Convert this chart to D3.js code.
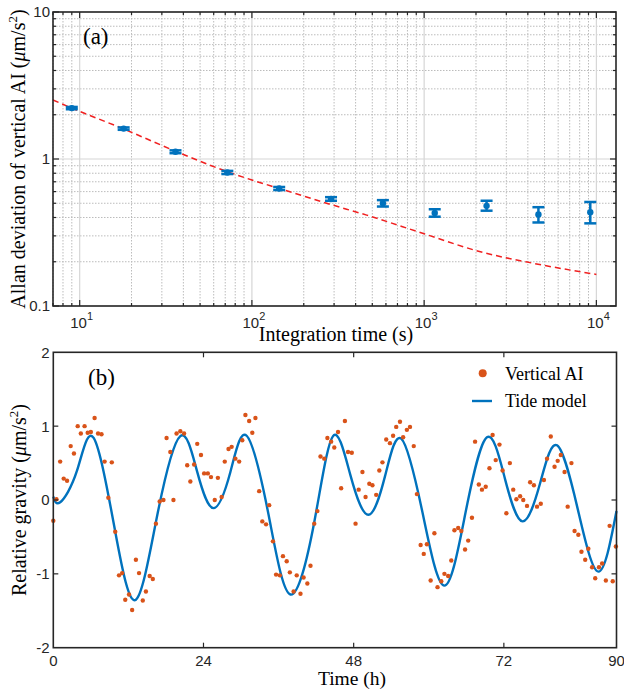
<!DOCTYPE html>
<html><head><meta charset="utf-8">
<script src="https://cdn.jsdelivr.net/npm/d3@7"></script>
<style>body{margin:0;background:#fff}</style>
</head><body><svg id="c" width="624" height="692"></svg>
<script>
// ---------- Panel (a) data ----------
const tau = [9,18,36,72,144,288,576,1152,2304,4608,9216];
const adev = [2.22,1.61,1.12,0.81,0.63,0.535,0.50,0.43,0.48,0.42,0.435];
const adevLo = [2.18,1.58,1.095,0.79,0.615,0.52,0.475,0.405,0.445,0.37,0.365];
const adevHi = [2.26,1.64,1.145,0.83,0.645,0.55,0.525,0.455,0.52,0.47,0.51];
const fitTau = [7,9,18,36,72,100,144,288,464,1000,2120,4325,10000];
const fitAdev = [2.52,2.22,1.60,1.13,0.82,0.72,0.63,0.49,0.415,0.31,0.234,0.195,0.164];
const xTicksA = [10,100,1000,10000];
const xTickExpA = ["1","2","3","4"];
const yTicksA = [0.1,1,10];
const yTickLabelsA = ["0.1","1","10"];

// ---------- Panel (b) data ----------
const aiTime = [0,0.5,1.1,1.66,2.2,2.78,3.3,3.9,4.4,5.0,5.5,6.0,6.6,7.15,7.7,8.2,8.8,9.35,9.9,10.5,11.0,11.5,12.1,12.6,13.2,13.7,14.3,14.8,15.4,15.9,16.4,17.0,17.6,18.1,18.7,19.2,19.7,20.3,20.9,21.4,21.9,22.5,23.0,23.6,24.1,24.7,25.2,25.8,26.3,26.9,27.4,28.0,28.5,29.1,29.7,30.2,30.7,31.3,31.8,32.3,32.9,33.4,34.0,34.5,35.1,35.6,36.2,36.7,37.3,37.8,38.4,38.9,39.5,40.0,40.6,41.1,41.7,42.2,42.7,43.3,43.8,44.4,44.9,45.5,46.0,
46.6,47.1,47.7,48.3,48.8,49.4,49.9,50.5,51.0,51.6,52.1,52.6,53.2,53.8,54.3,54.8,55.4,55.9,56.5,57.0,57.6,58.1,58.7,59.2,59.7,60.3,60.9,61.4,62.0,62.5,63.1,63.6,64.1,64.7,65.2,65.8,66.3,66.9,67.4,68.0,68.5,69.1,69.7,70.2,70.7,71.3,71.8,72.4,72.96,73.5,74.0,74.6,75.1,75.7,76.2,76.8,77.3,77.9,78.4,78.9,79.5,80.1,80.6,81.1,81.7,82.2,82.8,83.3,83.9,84.4,85.0,85.5,86.1,86.6,87.2,87.7,88.3,88.9,89.4,89.9];
const aiValue = [-0.28,0.01,0.52,0.29,0.26,0.73,0.63,1.00,0.90,1.00,0.91,0.92,1.11,0.90,0.89,0.52,0.03,0.51,-0.43,-1.02,-0.99,-1.35,-1.28,-1.49,-0.81,-0.99,-1.36,-1.24,-1.03,-1.07,-0.32,-0.02,0.00,0.84,0.65,0.00,0.90,0.93,0.90,0.47,0.25,0.48,0.76,0.61,0.36,0.36,0.31,0.00,0.30,0.04,0.52,0.69,0.72,0.56,0.52,0.81,1.15,1.07,0.91,1.11,0.12,-0.29,-0.33,-0.07,-0.56,-1.01,-1.02,-0.76,-0.83,-0.98,-1.24,-1.02,-1.27,-1.05,-1.13,-0.89,-0.32,-0.15,0.59,0.56,0.84,0.79,0.71,0.92,0.16,
1.07,0.65,0.64,-0.32,0.14,0.38,0.04,0.22,0.20,0.07,0.40,0.51,0.82,0.77,0.87,0.99,1.06,0.85,0.95,0.99,0.73,0.08,-0.61,-0.73,-0.60,-1.09,-0.45,-1.18,-1.10,-1.00,-1.03,-0.82,-0.41,-0.38,-0.42,-0.67,-0.55,-0.24,0.79,0.21,0.14,0.18,0.43,0.88,0.54,0.75,0.40,-0.18,0.50,0.14,0.01,0.05,0.00,-0.08,0.24,0.20,-0.09,-0.05,0.27,0.56,0.86,0.45,0.53,0.61,0.38,-0.09,0.50,-0.42,-0.47,-0.70,-0.81,-0.66,-0.91,-1.06,-0.91,-0.86,-1.09,-0.35,-1.10,-0.63];
const tideTime = [0,1.1,3.8,6.45,9.9,13.2,16.7,20.3,23.0,25.6,28.3,30.9,34.4,37.9,41.7,44.7,47.5,50.35,53.0,55.6,59.0,62.5,65.9,69.3,72.2,75.0,77.8,80.5,83.8,87.1,90];
const tideValue = [0.045,-0.03,0.40,0.84,-0.43,-1.35,-0.17,0.865,0.38,-0.11,0.38,0.87,-0.20,-1.28,-0.30,0.865,0.33,-0.20,0.32,0.83,-0.17,-1.16,-0.16,0.85,0.28,-0.29,0.23,0.74,-0.12,-0.97,-0.15];
const xTicksB = [0,24,48,72,90];
const yTicksB = [-2,-1,0,1,2];
const legendLabels = ["Vertical AI","Tide model"];

// ---------- styles ----------
const BLUE = "#0072BD", ORANGE = "#D95319", AX = "#262626";
const SANS = "'Liberation Sans', Arial, sans-serif";
const SERIF = "'Liberation Serif', 'Times New Roman', serif";

const svg = d3.select("#c");

// ================= Panel (a) =================
const A = {l:53, r:616, t:12, b:306};
const xA = d3.scaleLog().domain([7,13000]).range([A.l, A.r]);
const yA = d3.scaleLog().domain([0.1,10]).range([A.b, A.t]);
const gA = svg.append("g");

const minorX = xA.ticks().filter(v => !xTicksA.includes(v));
const minorY = yA.ticks().filter(v => !yTicksA.includes(v));

gA.selectAll(".mgx").data(minorX).join("line")
  .attr("x1", d=>xA(d)).attr("x2", d=>xA(d)).attr("y1", A.t).attr("y2", A.b)
  .attr("stroke", "#bcbcbc").attr("stroke-width", 1).attr("stroke-dasharray", "1.5,1.5");
gA.selectAll(".mgy").data(minorY).join("line")
  .attr("y1", d=>yA(d)).attr("y2", d=>yA(d)).attr("x1", A.l).attr("x2", A.r)
  .attr("stroke", "#bcbcbc").attr("stroke-width", 1).attr("stroke-dasharray", "1.5,1.5");
gA.selectAll(".Mgx").data(xTicksA).join("line")
  .attr("x1", d=>xA(d)).attr("x2", d=>xA(d)).attr("y1", A.t).attr("y2", A.b)
  .attr("stroke", "#d6d6d6").attr("stroke-width", 1.2);
gA.selectAll(".Mgy").data(yTicksA).join("line")
  .attr("y1", d=>yA(d)).attr("y2", d=>yA(d)).attr("x1", A.l).attr("x2", A.r)
  .attr("stroke", "#d6d6d6").attr("stroke-width", 1.2);

function tickLines(g, data, scale, orient, len, pos) {
  g.selectAll(null).data(data).join("line")
    .attr("stroke", AX).attr("stroke-width", 1.2)
    .each(function(d){
      const s = d3.select(this);
      if (orient === "x") s.attr("x1", scale(d)).attr("x2", scale(d)).attr("y1", pos).attr("y2", pos + len);
      else s.attr("y1", scale(d)).attr("y2", scale(d)).attr("x1", pos).attr("x2", pos + len);
    });
}
tickLines(gA, minorX, xA, "x", 3, A.t);
tickLines(gA, minorX, xA, "x", -3, A.b);
tickLines(gA, xTicksA, xA, "x", 6, A.t);
tickLines(gA, xTicksA, xA, "x", -6, A.b);
tickLines(gA, minorY, yA, "y", 3, A.l);
tickLines(gA, minorY, yA, "y", -3, A.r);
tickLines(gA, yTicksA, yA, "y", 6, A.l);
tickLines(gA, yTicksA, yA, "y", -6, A.r);

const fitLine = d3.line().x(d=>xA(d[0])).y(d=>yA(d[1])).curve(d3.curveMonotoneX);
gA.append("path").datum(fitTau.map((t,i)=>[t, fitAdev[i]]))
  .attr("d", fitLine).attr("fill","none").attr("stroke","#f02020")
  .attr("stroke-width",1.5).attr("stroke-dasharray","6,4");

const eb = gA.selectAll(".eb").data(tau.map((t,i)=>({t, v:adev[i], lo:adevLo[i], hi:adevHi[i]}))).join("g");
eb.append("line").attr("x1",d=>xA(d.t)).attr("x2",d=>xA(d.t))
  .attr("y1",d=>yA(d.lo)).attr("y2",d=>yA(d.hi)).attr("stroke",BLUE).attr("stroke-width",2.5);
eb.append("line").attr("x1",d=>xA(d.t)-6).attr("x2",d=>xA(d.t)+6)
  .attr("y1",d=>yA(d.lo)).attr("y2",d=>yA(d.lo)).attr("stroke",BLUE).attr("stroke-width",2.5);
eb.append("line").attr("x1",d=>xA(d.t)-6).attr("x2",d=>xA(d.t)+6)
  .attr("y1",d=>yA(d.hi)).attr("y2",d=>yA(d.hi)).attr("stroke",BLUE).attr("stroke-width",2.5);
eb.append("circle").attr("cx",d=>xA(d.t)).attr("cy",d=>yA(d.v)).attr("r",3.2).attr("fill",BLUE);

gA.append("rect").attr("x",A.l).attr("y",A.t).attr("width",A.r-A.l).attr("height",A.b-A.t)
  .attr("fill","none").attr("stroke",AX).attr("stroke-width",1.6);

gA.selectAll(".ytl").data(yTicksA).join("text")
  .attr("x", A.l-3).attr("y", d=>yA(d)).attr("dy","0.36em")
  .attr("text-anchor","end").attr("font-family",SANS).attr("font-size",15).attr("fill",AX)
  .text((d,i)=>yTickLabelsA[i]);
const xtl = gA.selectAll(".xtl").data(xTicksA).join("text")
  .attr("x", d=>xA(d)+2).attr("y", A.b+22)
  .attr("text-anchor","middle").attr("font-family",SANS).attr("font-size",15).attr("fill",AX);
xtl.append("tspan").text("10");
xtl.append("tspan").attr("dy",-8).attr("font-size",11).text((d,i)=>xTickExpA[i]);

gA.append("text").attr("x",336).attr("y",340.5).attr("text-anchor","middle")
  .attr("font-family",SERIF).attr("font-size",20).attr("fill","#000").text("Integration time (s)");
const ylA = gA.append("text").attr("transform",`translate(25,${(A.t+A.b)/2}) rotate(-90)`)
  .attr("text-anchor","middle").attr("font-family",SERIF).attr("font-size",20).attr("fill","#000");
ylA.append("tspan").text("Allan deviation of vertical AI (");
ylA.append("tspan").attr("font-style","italic").text("μ");
ylA.append("tspan").text("m/s");
ylA.append("tspan").attr("dy",-8).attr("font-size",13).text("2");
ylA.append("tspan").attr("dy",8).text(")");
gA.append("text").attr("x",83).attr("y",44).attr("font-family",SERIF).attr("font-size",23).text("(a)");

// ================= Panel (b) =================
const B = {l:53.3, r:616.5, t:352.3, b:647.7};
const xB = d3.scaleLinear().domain([0,90]).range([B.l, B.r]);
const yB = d3.scaleLinear().domain([-2,2]).range([B.b, B.t]);
const gB = svg.append("g");

const tideLine = d3.line().x(d=>xB(d[0])).y(d=>yB(d[1])).curve(d3.curveNatural);
gB.append("path").datum(tideTime.map((t,i)=>[t, tideValue[i]]))
  .attr("d", tideLine).attr("fill","none").attr("stroke",BLUE).attr("stroke-width",2.4);

gB.selectAll(".dot").data(aiTime.map((t,i)=>[t, aiValue[i]])).join("circle")
  .attr("cx",d=>xB(d[0])).attr("cy",d=>yB(d[1])).attr("r",2.2).attr("fill",ORANGE);

gB.append("rect").attr("x",B.l).attr("y",B.t).attr("width",B.r-B.l).attr("height",B.b-B.t)
  .attr("fill","none").attr("stroke",AX).attr("stroke-width",1.6);
const innerX = xTicksB.filter(v=>v>0 && v<90), innerY = yTicksB.filter(v=>v>-2 && v<2);
tickLines(gB, innerX, xB, "x", 5, B.t);
tickLines(gB, innerX, xB, "x", -5, B.b);
tickLines(gB, innerY, yB, "y", 5, B.l);
tickLines(gB, innerY, yB, "y", -5, B.r);

gB.selectAll(".ytl").data(yTicksB).join("text")
  .attr("x", 49.5).attr("y", d=>yB(d)).attr("dy","0.36em")
  .attr("text-anchor","end").attr("font-family",SANS).attr("font-size",15).attr("fill",AX)
  .text(d=>d);
gB.selectAll(".xtl").data(xTicksB).join("text")
  .attr("x", d=>xB(d)).attr("y", 666)
  .attr("text-anchor","middle").attr("font-family",SANS).attr("font-size",15).attr("fill",AX)
  .text(d=>d);

gB.append("text").attr("x",352).attr("y",685).attr("text-anchor","middle")
  .attr("font-family",SERIF).attr("font-size",19.5).attr("fill","#000").text("Time (h)");
const ylB = gB.append("text").attr("transform",`translate(26,${(B.t+B.b)/2}) rotate(-90)`)
  .attr("text-anchor","middle").attr("font-family",SERIF).attr("font-size",20).attr("fill","#000");
ylB.append("tspan").text("Relative gravity (");
ylB.append("tspan").attr("font-style","italic").text("μ");
ylB.append("tspan").text("m/s");
ylB.append("tspan").attr("dy",-8).attr("font-size",13).text("2");
ylB.append("tspan").attr("dy",8).text(")");
gB.append("text").attr("x",88).attr("y",385).attr("font-family",SERIF).attr("font-size",23).text("(b)");

gB.append("circle").attr("cx",482.7).attr("cy",373.3).attr("r",4).attr("fill",ORANGE);
gB.append("text").attr("x",505).attr("y",379.5).attr("font-family",SERIF).attr("font-size",18).text(legendLabels[0]);
gB.append("line").attr("x1",472).attr("x2",492).attr("y1",401).attr("y2",401).attr("stroke",BLUE).attr("stroke-width",2.4);
gB.append("text").attr("x",505).attr("y",406.7).attr("font-family",SERIF).attr("font-size",18).text(legendLabels[1]);
</script>
</body></html>
